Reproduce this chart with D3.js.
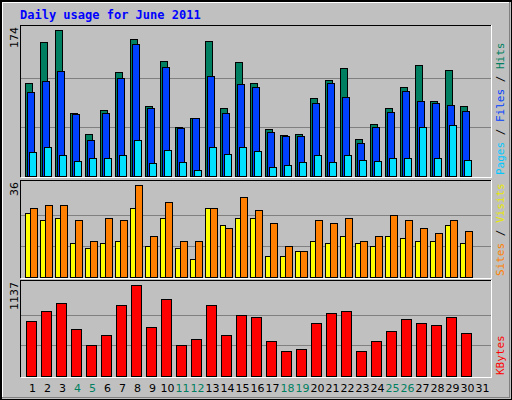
<!DOCTYPE html>
<html>
<head>
<style>
  body { margin: 0; background: #fff; }
  svg { font-family: 'DejaVu Sans Mono', monospace; shape-rendering: crispEdges; }
</style>
<script src="https://d3js.org/d3.v7.min.js"></script>
</head>
<body>
<svg id="chart" width="512" height="400"></svg>
<script>
const days = d3.range(1, 32);
const weekends = [4, 5, 11, 12, 18, 19, 25, 26];
const hits = [110,159,174,75,50,78,123,163,83,136,58,69,160,81,135,110,55,48,50,92,114,128,43,61,81,105,132,89,126,83,0];
const files = [99,113,125,73,42,74,116,157,81,129,57,68,119,75,109,106,52,47,47,86,110,93,39,58,76,101,89,86,84,77,0];
const pages = [28,34,25,17,21,21,24,42,15,30,16,7,34,26,34,29,10,13,16,24,16,24,18,17,21,21,58,21,60,18,0];
const sites = [25,22,23,13,11,13,14,27,12,23,11,7,27,20,23,23,8,8,10,14,13,16,13,12,16,15,14,14,20,13,0];
const visits = [27,28,28,22,14,23,22,36,16,29,14,14,27,19,31,26,21,12,10,22,21,23,14,16,24,22,19,17,22,18,0];
const kbytes = [675,800,912,575,387,512,887,1137,600,950,375,462,875,512,762,737,425,300,325,650,787,800,312,425,550,700,662,637,737,525,0];

const svg = d3.select("#chart");
const W = 512, H = 400;

// background and bevel
svg.append("rect").attr("width", W).attr("height", H).attr("fill", "#c0c0c0");
svg.append("path").attr("d", `M0.5,${H-0.5}V0.5H${W-0.5}`).attr("stroke", "#000").attr("fill", "none").attr("stroke-width", 2);
svg.append("path").attr("d", `M2.5,${H-2.5}V2.5H${W-2.5}`).attr("stroke", "#fff").attr("fill", "none");
svg.append("path").attr("d", `M${W-0.5},0V${H-0.5}H0`).attr("stroke", "#000").attr("fill", "none").attr("stroke-width", 2);
svg.append("path").attr("d", `M${W-2.5},2V${H-2.5}H2`).attr("stroke", "#808080").attr("fill", "none");

svg.append("text").attr("x", 20).attr("y", 19).attr("fill", "#0000ff")
  .attr("font-weight", "bold").attr("font-size", 12).text("Daily usage for June 2011");

const x = d3.scaleLinear().domain([1, 32]).range([20, 485]);

function panel(top, bottom, max, maxY, series, label, labelParts) {
  const y = d3.scaleLinear().domain([0, max]).range([bottom - 1.5, maxY]);
  const g = svg.append("g");
  g.append("path").attr("d", `M20.5,${bottom}V${top + 0.5}H491`).attr("stroke", "#000").attr("fill", "none");
  g.append("path").attr("d", `M21,${bottom + 0.5}H491.5V${top}`).attr("stroke", "#fff").attr("fill", "none");
  [max / 3, 2 * max / 3].forEach(v => {
    g.append("line").attr("x1", 21).attr("x2", 491).attr("y1", Math.round(y(v)) + 0.5).attr("y2", Math.round(y(v)) + 0.5)
      .attr("stroke", "#808080");
  });
  series.forEach(s => {
    g.selectAll(null).data(s.data.map((v, i) => [days[i], v]).filter(d => d[1] > 0)).enter().append("rect")
      .attr("x", d => x(d[0]) + s.dx + 0.5)
      .attr("y", d => Math.round(y(d[1])) + 0.5)
      .attr("width", s.w)
      .attr("height", d => Math.round(y(0)) - Math.round(y(d[1])))
      .attr("fill", s.color).attr("stroke", "#000");
  });
  svg.append("text").attr("transform", `translate(18,${top + 2}) rotate(-90)`)
    .attr("text-anchor", "end").attr("font-family", "DejaVu Sans").attr("font-size", 11).text(label);
  const t = svg.append("text").attr("transform", `translate(504,${bottom - 2}) rotate(-90)`)
    .attr("font-size", 11);
  labelParts.forEach(p => t.append("tspan").attr("fill", p[1]).text(p[0]));
}

panel(25, 177, 174, 29.5, [
  { data: hits, color: "#008060", dx: 5, w: 7 },
  { data: files, color: "#0040ff", dx: 7, w: 7 },
  { data: pages, color: "#00e0ff", dx: 9, w: 7 }
], "174", [["Pages", "#00c8ff"], [" / ", "#000"], ["Files", "#0040ff"], [" / ", "#000"], ["Hits", "#008060"]]);

panel(180, 278, 36, 184.5, [
  { data: sites, color: "#ffff00", dx: 5, w: 5 },
  { data: visits, color: "#ff8000", dx: 9.5, w: 7 }
], "36", [["Sites", "#ff8000"], [" / ", "#000"], ["Visits", "#e8e800"]]);

panel(280, 377, 1137, 284.5, [
  { data: kbytes, color: "#ff0000", dx: 6, w: 10 }
], "1137", [["KBytes", "#ff0000"]]);

svg.append("g").selectAll("text").data(days).enter().append("text")
  .attr("x", d => x(d) + 12.5).attr("y", 392).attr("text-anchor", "middle")
  .attr("font-family", "DejaVu Sans").attr("font-size", 11)
  .attr("fill", d => weekends.includes(d) ? "#008060" : "#000")
  .text(d => d);
</script>
</body>
</html>
